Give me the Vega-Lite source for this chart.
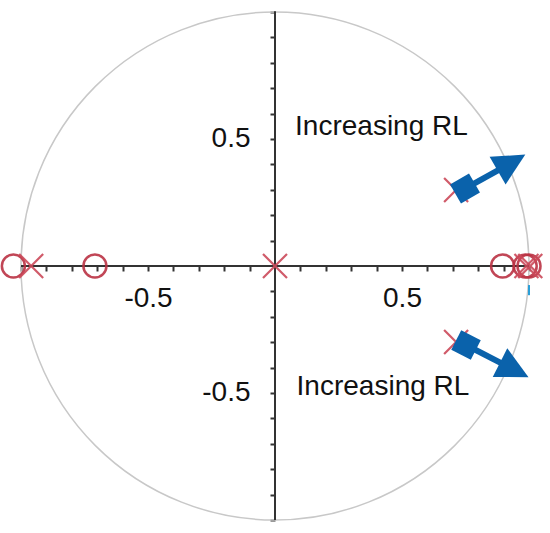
{
  "$schema": "https://vega.github.io/schema/vega-lite/v6.json",
  "width": 550,
  "height": 533,
  "padding": 0,
  "autosize": "none",
  "background": "white",
  "config": {"view": {"stroke": null}},
  "encoding": {
    "x": {"field": "x", "type": "quantitative",
      "scale": {"domain": [-1.08268, 1.08268], "nice": false, "zero": false},
      "axis": {"orient": "bottom", "offset": -267, "title": null, "grid": false, "domain": false,
        "values": [-1, -0.9, -0.8, -0.7, -0.6, -0.5, -0.4, -0.3, -0.2, -0.1, 0.1, 0.2, 0.3, 0.4, 0.5, 0.6, 0.7, 0.8, 0.9, 1],
        "labelExpr": "datum.value == 0.5 ? '0.5' : (datum.value == -0.5 ? '-0.5' : '')",
        "tickSize": 5, "tickWidth": 2, "tickColor": "#333333",
        "labelFont": "Liberation Sans", "labelFontSize": 28, "labelColor": "#111111",
        "labelPadding": 13, "labelOverlap": false, "labelFlush": false}},
    "y": {"field": "y", "type": "quantitative",
      "scale": {"domain": [-1.05118, 1.04724], "nice": false, "zero": false},
      "axis": {"orient": "left", "offset": -275, "title": null, "grid": false, "domain": false,
        "values": [-1, -0.9, -0.8, -0.7, -0.6, -0.5, -0.4, -0.3, -0.2, -0.1, 0.1, 0.2, 0.3, 0.4, 0.5, 0.6, 0.7, 0.8, 0.9, 1],
        "labelExpr": "datum.value == 0.5 ? '0.5' : (datum.value == -0.5 ? '-0.5' : '')",
        "tickSize": 5, "tickWidth": 2, "tickColor": "#333333",
        "labelFont": "Liberation Sans", "labelFontSize": 28, "labelColor": "#111111",
        "labelPadding": 20, "labelOverlap": false, "labelFlush": false}}
  },
  "layer": [
    {
      "data": {"values": [{"x": 0, "y": 0}]},
      "mark": {"type": "point", "shape": "circle", "size": 258064, "filled": false, "stroke": "#c8c8c8", "strokeWidth": 1.5, "opacity": 1}
    },
    {
      "data": {"values": [{"x": -1, "y": 0, "x2": 1, "y2": 0}, {"x": 0, "y": -1.0, "x2": 0, "y2": 1.003}]},
      "mark": {"type": "rule", "color": "#333333", "strokeWidth": 2},
      "encoding": {"x2": {"field": "x2"}, "y2": {"field": "y2"}}
    },
    {
      "data": {"values": [{"x": 1.0, "y": -0.075, "x2": 1.0, "y2": -0.115}]},
      "mark": {"type": "rule", "color": "#2a9fd8", "strokeWidth": 2},
      "encoding": {"x2": {"field": "x2"}, "y2": {"field": "y2"}}
    },
    {
      "data": {"values": [{"x": -1.03, "y": 0}, {"x": -0.709, "y": 0}, {"x": 0.896, "y": 0}, {"x": 0.985, "y": 0}, {"x": 1.0, "y": 0}]},
      "mark": {"type": "point", "shape": "circle", "size": 530, "filled": false, "stroke": "#bb3344", "strokeWidth": 2.5, "opacity": 0.9}
    },
    {
      "data": {"values": [{"x": -0.96, "y": 0}, {"x": 0, "y": 0}, {"x": 0.99, "y": 0}, {"x": 1.005, "y": 0}, {"x": 0.713, "y": 0.299}, {"x": 0.713, "y": -0.299}]},
      "mark": {"type": "point", "shape": "M-1,-1L1,1M1,-1L-1,1", "size": 576, "filled": false, "stroke": "#cc4a5a", "strokeWidth": 2.2, "opacity": 0.9}
    },
    {
      "data": {"values": [{"x": 0.748, "y": 0.305, "x2": 0.89, "y2": 0.383}, {"x": 0.752, "y": -0.311, "x2": 0.90, "y2": -0.387}]},
      "mark": {"type": "rule", "color": "#0a62ab", "strokeWidth": 6},
      "encoding": {"x2": {"field": "x2"}, "y2": {"field": "y2"}}
    },
    {
      "data": {"values": [{"x": 0.931, "y": 0.407}]},
      "mark": {"type": "point", "shape": "M1,0L-1,-1L-1,1Z", "size": 1024, "filled": true, "color": "#0a62ab", "opacity": 1, "angle": 330}
    },
    {
      "data": {"values": [{"x": 0.942, "y": -0.409}]},
      "mark": {"type": "point", "shape": "M1,0L-1,-1L-1,1Z", "size": 1024, "filled": true, "color": "#0a62ab", "opacity": 1, "angle": 27}
    },
    {
      "data": {"values": [{"x": 0.748, "y": 0.305}]},
      "mark": {"type": "point", "shape": "square", "size": 480, "filled": true, "color": "#0a62ab", "opacity": 1, "angle": 330}
    },
    {
      "data": {"values": [{"x": 0.752, "y": -0.311}]},
      "mark": {"type": "point", "shape": "square", "size": 480, "filled": true, "color": "#0a62ab", "opacity": 1, "angle": 27}
    },
    {
      "data": {"values": [{"x": 0.079, "y": 0.516, "label": "Increasing RL"}, {"x": 0.085, "y": -0.508, "label": "Increasing RL"}]},
      "mark": {"type": "text", "align": "left", "baseline": "alphabetic", "font": "Liberation Sans", "fontSize": 28, "color": "#111111"},
      "encoding": {"text": {"field": "label"}}
    }
  ]
}
